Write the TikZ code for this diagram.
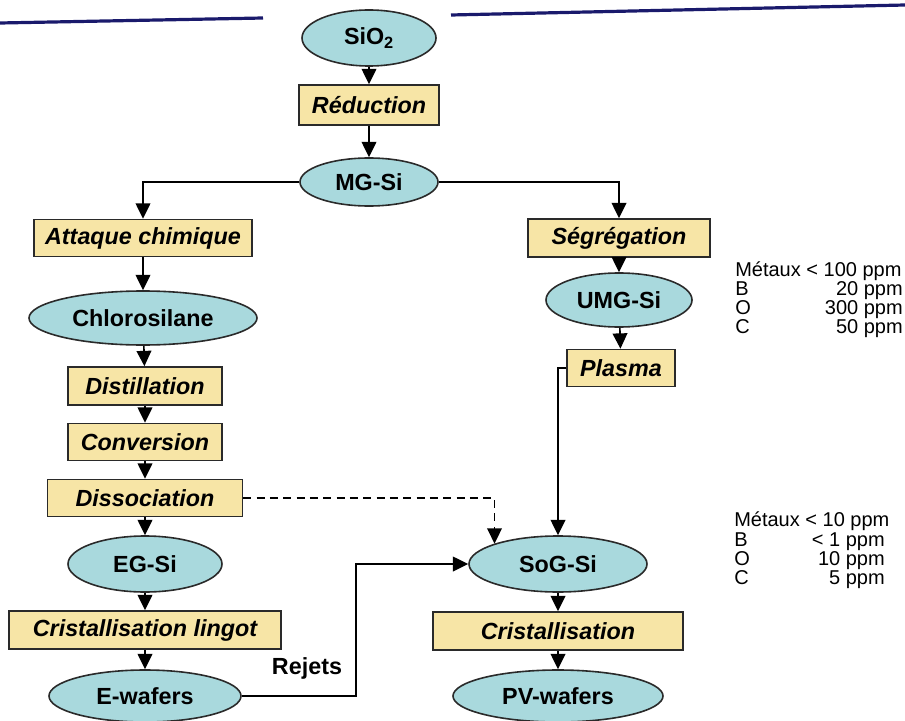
\documentclass[tikz,border=0pt]{standalone}
\usepackage{fontspec}
\setmainfont{Liberation Sans}
\usetikzlibrary{shapes.geometric,arrows.meta}
\definecolor{ellfill}{HTML}{A9D9DD}
\definecolor{boxfill}{HTML}{F7E5A6}
\definecolor{navy}{HTML}{1A1A6C}
\definecolor{edge}{HTML}{2A2A2A}
\tikzset{
  ell/.style={ellipse,draw=edge,line width=1.2pt,fill=ellfill,inner sep=0pt,
    font=\fontsize{17.5}{20}\selectfont\bfseries},
  stepbox/.style={rectangle,draw=edge,line width=1.2pt,fill=boxfill,inner sep=0pt,
    font=\fontsize{17.5}{20}\selectfont\bfseries\itshape},
  conn/.style={line width=1.25pt,-{Triangle[length=11.5pt,width=11pt]}},
  note/.style={inner sep=0pt,font=\fontsize{15}{18}\selectfont},
  topline/.style={navy,line width=2.4pt}
}
\begin{document}
\begin{tikzpicture}[x=0.75pt,y=-0.75pt]
\useasboundingbox (0,0) rectangle (905,720);
% top decorative lines
\coordinate (tl1) at (0,23); \coordinate (tl2) at (263,18);
\coordinate (tr1) at (451,15); \coordinate (tr2) at (905,5);
\draw[topline] (tl1) -- (tl2);
\draw[topline] (tr1) -- (tr2);
% nodes
\node[ell,minimum width=134*0.75pt,minimum height=56*0.75pt] (sio) at (369,38) {SiO\textsubscript{2}};
\node[stepbox,minimum width=140*0.75pt,minimum height=40*0.75pt] (red) at (369,105) {Réduction};
\node[ell,minimum width=138*0.75pt,minimum height=48*0.75pt] (mg) at (369,182) {MG-Si};
\node[stepbox,minimum width=218*0.75pt,minimum height=37*0.75pt] (att) at (143,238) {Attaque chimique};
\node[ell,minimum width=228*0.75pt,minimum height=54*0.75pt] (chl) at (143,318) {Chlorosilane};
\node[stepbox,minimum width=154*0.75pt,minimum height=38*0.75pt] (dis) at (145,386) {Distillation};
\node[stepbox,minimum width=154*0.75pt,minimum height=37*0.75pt] (con) at (145,442) {Conversion};
\node[stepbox,minimum width=195*0.75pt,minimum height=37*0.75pt] (dsc) at (145,498) {Dissociation};
\node[ell,minimum width=154*0.75pt,minimum height=56*0.75pt] (eg) at (145,564) {EG-Si};
\node[stepbox,minimum width=272*0.75pt,minimum height=38*0.75pt] (cl) at (145,630) {Cristallisation lingot};
\node[ell,minimum width=192*0.75pt,minimum height=52*0.75pt] (ew) at (145,696) {E-wafers};
\node[stepbox,minimum width=182*0.75pt,minimum height=38*0.75pt] (seg) at (619,238) {Ségrégation};
\node[ell,minimum width=146*0.75pt,minimum height=54*0.75pt] (umg) at (619,300) {UMG-Si};
\node[stepbox,minimum width=108*0.75pt,minimum height=37*0.75pt] (pla) at (621,368) {Plasma};
\node[ell,minimum width=178*0.75pt,minimum height=56*0.75pt] (sog) at (558,564) {SoG-Si};
\node[stepbox,minimum width=250*0.75pt,minimum height=38*0.75pt] (cr) at (558,631) {Cristallisation};
\node[ell,minimum width=210*0.75pt,minimum height=52*0.75pt] (pv) at (558,696) {PV-wafers};
\node[inner sep=0pt,font=\fontsize{17.5}{20}\selectfont\bfseries] (rej) at (307,668) {Rejets};
% connectors
\draw[conn] (sio) -- (red);
\draw[conn] (red) -- (mg);
\draw[conn] (mg.west) -| (att.north);
\draw[conn] (mg.east) -| (seg.north);
\draw[conn] (att) -- (chl);
\draw[conn] (chl) -- (dis);
\draw[conn] (dis) -- (con);
\draw[conn] (con) -- (dsc);
\draw[conn] (dsc) -- (eg);
\draw[conn] (eg) -- (cl);
\draw[conn] (cl) -- (ew);
\draw[conn] (seg) -- (umg);
\draw[conn] (umg) -- (pla);
\draw[conn] (pla.west) -| (sog.north);
\draw[conn,dash pattern=on 6pt off 4pt] (dsc.east) -| (sog.north west);
\coordinate (rj) at (356,696);
\draw[conn] (ew.east) -- (rj) |- (sog.west);
\draw[conn] (sog) -- (cr);
\draw[conn] (cr) -- (pv);
% notes block 1
\node[note,anchor=base west] (m1) at (735,276) {Métaux < 100 ppm};
\node[note,anchor=base west] (b1) at (735,295) {B};
\node[note,anchor=base west] (o1) at (735,314) {O};
\node[note,anchor=base west] (c1) at (735,333) {C};
\node[note,anchor=base east] (bv1) at (903,295) {20 ppm};
\node[note,anchor=base east] (ov1) at (903,314) {300 ppm};
\node[note,anchor=base east] (cv1) at (903,333) {50 ppm};
% notes block 2
\node[note,anchor=base west] (m2) at (734,526) {Métaux < 10 ppm};
\node[note,anchor=base west] (b2) at (734,546) {B};
\node[note,anchor=base west] (o2) at (734,565) {O};
\node[note,anchor=base west] (c2) at (734,584) {C};
\node[note,anchor=base east] (bv2) at (885,546) {< 1 ppm};
\node[note,anchor=base east] (ov2) at (885,565) {10 ppm};
\node[note,anchor=base east] (cv2) at (885,584) {5 ppm};
\end{tikzpicture}
\end{document}
